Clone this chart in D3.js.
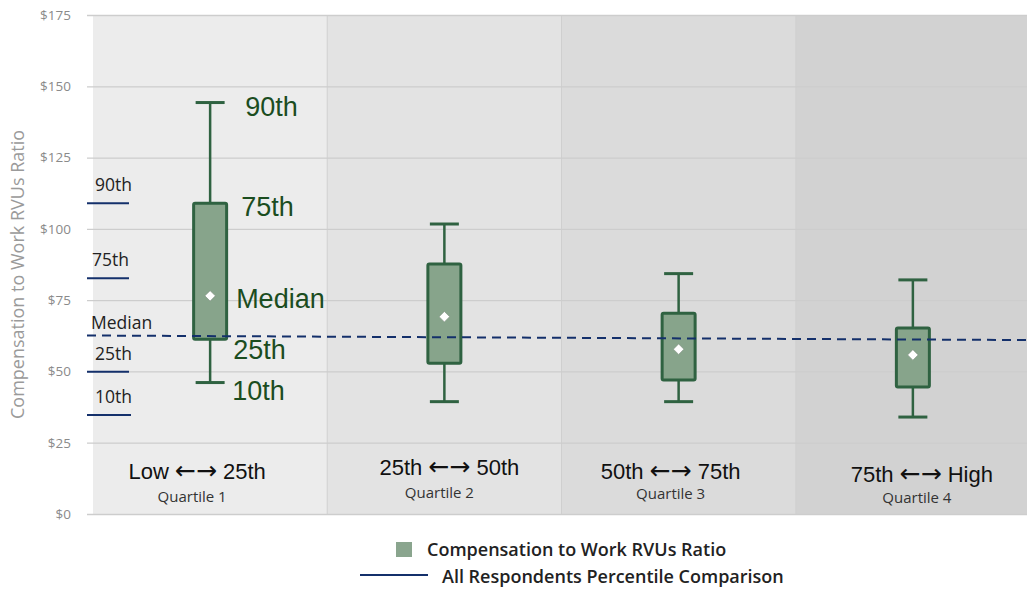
<!DOCTYPE html>
<html><head><meta charset="utf-8">
<script src="https://cdn.jsdelivr.net/npm/d3@7"></script>
<style>body{margin:0;background:#fff}svg{display:block}</style>
</head><body>
<svg id="chart" width="1027" height="589"></svg>
<script>
// ---- data ----
const categoryFrom = ["Low", "25th", "50th", "75th"];
const categoryTo = ["25th", "50th", "75th", "High"];
const categories = categoryFrom.map((f, i) => f + " \u2190\u2192 " + categoryTo[i]);
const quartileLabels = ["Quartile 1", "Quartile 2", "Quartile 3", "Quartile 4"];
const p10 = [46.1, 39.4, 39.4, 34.0];
const p25 = [61.3, 52.9, 47.0, 44.5];
const median = [76.5, 69.2, 57.8, 55.8];
const p75 = [109.0, 87.7, 70.4, 65.2];
const p90 = [144.3, 101.7, 84.3, 82.1];
const allRespLabels = ["90th", "75th", "25th", "10th"];
const allRespValues = [109.0, 82.7, 49.9, 34.7];
const allRespMedianLine = [62.6, 61.0]; // start, end of dashed line
const yTicks = [0, 25, 50, 75, 100, 125, 150, 175];
const boxLabels = ["90th", "75th", "Median", "25th", "10th"];
const legendLabels = ["Compensation to Work RVUs Ratio", "All Respondents Percentile Comparison"];

const svg = d3.select("#chart");
const y = d3.scaleLinear().domain([0, 175]).range([514, 15]);
const x = d3.scaleBand().domain(categories).range([93, 1030]).paddingInner(0).paddingOuter(0);
const plotLeft = 87, plotRight = 1027;
const bandColors = ["#ececec", "#e3e3e3", "#dbdbdb", "#d2d2d2"];
const green = "#2f6241", fill = "#87a48b", navy = "#14306b";
const segoe = "'Open Sans', 'Noto Sans', sans-serif";
const arial = "'Liberation Sans', Arial, sans-serif";

// bands
svg.selectAll("rect.band").data(categories).join("rect")
  .attr("x", d => x(d)).attr("y", y(175)).attr("width", x.bandwidth()).attr("height", y(0) - y(175))
  .attr("fill", (d, i) => bandColors[i]);
svg.selectAll("line.sep").data(categories.slice(1)).join("line")
  .attr("x1", d => x(d)).attr("x2", d => x(d)).attr("y1", y(175)).attr("y2", y(0))
  .attr("stroke", "#cfcfcf").attr("stroke-width", 1);

// gridlines + axis
const yAxis = d3.axisLeft(y).tickValues(yTicks).tickFormat(d => "$" + d).tickSize(0).tickPadding(16);
const ga = svg.append("g").attr("transform", `translate(${plotLeft},0)`).call(yAxis);
ga.select(".domain").remove();
ga.selectAll("text").attr("fill", "#8a8a8a").style("font-family", segoe).style("font-size", "13.5px");
svg.selectAll("line.grid").data(yTicks).join("line")
  .attr("x1", plotLeft).attr("x2", plotRight).attr("y1", d => y(d) + 0.5).attr("y2", d => y(d) + 0.5)
  .attr("stroke", "#cdcdcd").attr("stroke-width", 1.3);

// y axis title
svg.append("text").attr("transform", `translate(24,${y(84)}) rotate(-90)`)
  .attr("text-anchor", "middle").attr("fill", "#9a9a9a")
  .style("font-family", segoe).style("font-size", "18px")
  .text("Compensation to Work RVUs Ratio");

// all respondents reference lines (left)
svg.selectAll("line.ref").data(allRespValues).join("line")
  .attr("x1", plotLeft).attr("x2", (d, i) => i === 3 ? plotLeft + 44 : plotLeft + 42)
  .attr("y1", d => y(d)).attr("y2", d => y(d)).attr("stroke", navy).attr("stroke-width", 2);
svg.selectAll("text.ref").data(allRespValues).join("text")
  .attr("x", (d, i) => i === 1 ? plotLeft + 5 : plotLeft + 8).attr("y", d => y(d) - 12)
  .attr("fill", "#222").style("font-family", segoe).style("font-size", "17.5px")
  .text((d, i) => allRespLabels[i]);

// boxes
const bw = 33, cw = 29;
const g = svg.append("g");
categories.forEach((c, i) => {
  const cx = x(c) + x.bandwidth() / 2;
  g.append("line").attr("x1", cx).attr("x2", cx).attr("y1", y(p90[i])).attr("y2", y(p10[i])).attr("stroke", green).attr("stroke-width", 2.5);
  g.append("line").attr("x1", cx - cw / 2).attr("x2", cx + cw / 2).attr("y1", y(p90[i])).attr("y2", y(p90[i])).attr("stroke", green).attr("stroke-width", 3);
  g.append("line").attr("x1", cx - cw / 2).attr("x2", cx + cw / 2).attr("y1", y(p10[i])).attr("y2", y(p10[i])).attr("stroke", green).attr("stroke-width", 3);
  g.append("rect").attr("x", cx - bw / 2).attr("y", y(p75[i])).attr("width", bw).attr("height", y(p25[i]) - y(p75[i]))
    .attr("fill", fill).attr("stroke", green).attr("stroke-width", 3).attr("rx", 1.5);
});

// dashed all-respondents median line
const xl = d3.scaleLinear().domain([0, 1]).range([plotLeft, plotRight]);
svg.append("path").datum(allRespMedianLine)
  .attr("d", d3.line().x((d, i) => xl(i)).y(d => y(d)))
  .attr("stroke", navy).attr("stroke-width", 2).attr("stroke-dasharray", "9,6").attr("fill", "none");
svg.append("text").attr("x", plotLeft + 4).attr("y", y(allRespMedianLine[0]) - 7)
  .attr("fill", "#222").style("font-family", segoe).style("font-size", "17.5px").text("Median");

// median diamonds
categories.forEach((c, i) => {
  const cx = x(c) + x.bandwidth() / 2;
  svg.append("path").attr("d", d3.symbol(d3.symbolDiamond2, 70)())
    .attr("transform", `translate(${cx},${y(median[i])})`).attr("fill", "#fff").attr("stroke", "#7f8f82").attr("stroke-width", 0.6);
});

// box annotation labels (first box)
const cx0 = x(categories[0]) + x.bandwidth() / 2;
const annVals = [p90[0], p75[0], median[0], p25[0], p10[0]];
const annDx = [35, 31, 26, 23, 22];
const annDy = [13, 13, 12, 20, 17];
svg.selectAll("text.ann").data(annVals).join("text")
  .attr("x", (d, i) => cx0 + annDx[i]).attr("y", (d, i) => y(d) + annDy[i])
  .attr("fill", "#1b4d1f").style("font-family", arial).style("font-size", "27px")
  .text((d, i) => boxLabels[i]);

// category labels
const catDx = [-13, 5, -8, 9];
const catY = [479, 475, 479, 482];
const qDx = [-18, -5, -8, 4];
const qY = [502, 498, 499, 503];
categories.forEach((c, i) => {
  const cx = x(c) + x.bandwidth() / 2;
  const t = svg.append("text").attr("x", cx + catDx[i]).attr("y", catY[i]).attr("text-anchor", "middle")
    .attr("fill", "#111").style("font-family", arial).style("font-size", "22px");
  t.append("tspan").text(categoryFrom[i] + " ");
  t.append("tspan").style("font-family", "'DejaVu Sans', sans-serif").style("font-size", "25px").text("\u2190\u2192");
  t.append("tspan").text(" " + categoryTo[i]);
  svg.append("text").attr("x", cx + qDx[i]).attr("y", qY[i]).attr("text-anchor", "middle")
    .attr("fill", "#333").style("font-family", segoe).style("font-size", "15px").text(quartileLabels[i]);
});

// legend
svg.append("rect").attr("x", 396).attr("y", 542).attr("width", 16).attr("height", 15).attr("fill", "#8aa58e");
svg.append("text").attr("x", 427).attr("y", 556).attr("fill", "#222")
  .style("font-family", segoe).style("font-size", "18px").style("font-weight", 600).text(legendLabels[0]);
svg.append("line").attr("x1", 360).attr("x2", 428).attr("y1", 575).attr("y2", 575).attr("stroke", navy).attr("stroke-width", 2);
svg.append("text").attr("x", 442).attr("y", 583).attr("fill", "#222")
  .style("font-family", segoe).style("font-size", "18px").style("font-weight", 600).text(legendLabels[1]);
</script>
</body></html>
